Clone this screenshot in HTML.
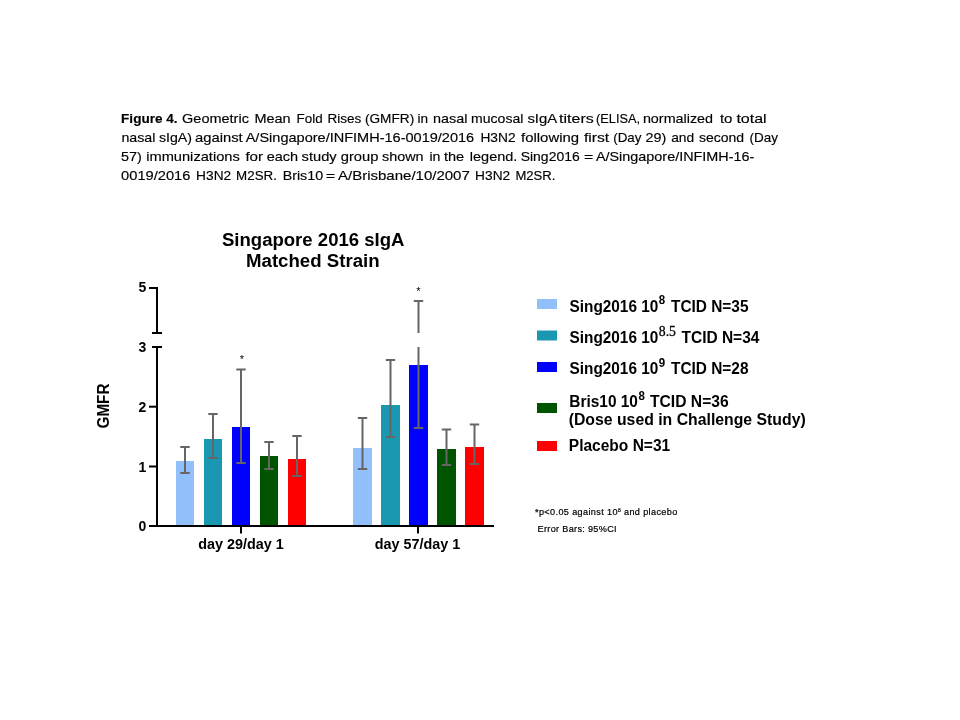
<!DOCTYPE html>
<html lang="en">
<head>
<meta charset="utf-8">
<title>Figure 4</title>
<style>
html,body{margin:0;padding:0;background:#fff;}
body{width:960px;height:720px;overflow:hidden;}
svg{display:block;}
text{font-family:"Liberation Sans",sans-serif;fill:#000;}
.cap{font-size:13.4px;stroke:#000;stroke-width:0.15px;}
.b{font-weight:bold;}
.ttl{font-size:18.7px;font-weight:bold;text-anchor:middle;}
.ax{font-size:14px;font-weight:bold;}
.lg{font-size:15.6px;font-weight:bold;}
.sup{font-size:13px;font-weight:bold;}
.fn{font-size:9.1px;stroke:#000;stroke-width:0.2px;}
.eb{stroke:#666;stroke-width:2;fill:none;}
</style>
</head>
<body>
<svg width="960" height="720" viewBox="0 0 960 720">
<rect width="960" height="720" fill="#fff"/>

<!-- caption -->
<g class="cap">
<text y="122.5"><tspan x="121.1" textLength="56.5" lengthAdjust="spacingAndGlyphs" class="b">Figure 4.</tspan> <tspan x="182.1" textLength="66.8" lengthAdjust="spacingAndGlyphs">Geometric</tspan> <tspan x="254.4" textLength="36.2" lengthAdjust="spacingAndGlyphs">Mean</tspan> <tspan x="296.6" textLength="26.0" lengthAdjust="spacingAndGlyphs">Fold</tspan> <tspan x="327.4" textLength="33.8" lengthAdjust="spacingAndGlyphs">Rises</tspan> <tspan x="364.9" textLength="49.3" lengthAdjust="spacingAndGlyphs">(GMFR)</tspan> <tspan x="417.4" textLength="10.6" lengthAdjust="spacingAndGlyphs">in</tspan> <tspan x="433.0" textLength="34.4" lengthAdjust="spacingAndGlyphs">nasal</tspan> <tspan x="471.1" textLength="52.3" lengthAdjust="spacingAndGlyphs">mucosal</tspan> <tspan x="527.4" textLength="29.0" lengthAdjust="spacingAndGlyphs">sIgA</tspan> <tspan x="559.1" textLength="34.6" lengthAdjust="spacingAndGlyphs">titers</tspan> <tspan x="596.1" textLength="44.0" lengthAdjust="spacingAndGlyphs">(ELISA,</tspan> <tspan x="642.9" textLength="70.2" lengthAdjust="spacingAndGlyphs">normalized</tspan> <tspan x="719.9" textLength="12.5" lengthAdjust="spacingAndGlyphs">to</tspan> <tspan x="736.4" textLength="30.3" lengthAdjust="spacingAndGlyphs">total</tspan></text>
<text y="141.7"><tspan x="121.4" textLength="34.0" lengthAdjust="spacingAndGlyphs">nasal</tspan> <tspan x="158.9" textLength="33.0" lengthAdjust="spacingAndGlyphs">sIgA)</tspan> <tspan x="195.0" textLength="47.7" lengthAdjust="spacingAndGlyphs">against</tspan> <tspan x="245.7" textLength="228.5" lengthAdjust="spacingAndGlyphs">A/Singapore/INFIMH-16-0019/2016</tspan> <tspan x="480.4" textLength="35.2" lengthAdjust="spacingAndGlyphs">H3N2</tspan> <tspan x="521.1" textLength="57.9" lengthAdjust="spacingAndGlyphs">following</tspan> <tspan x="583.9" textLength="25.3" lengthAdjust="spacingAndGlyphs">first</tspan> <tspan x="613.2" textLength="28.2" lengthAdjust="spacingAndGlyphs">(Day</tspan> <tspan x="645.6" textLength="20.8" lengthAdjust="spacingAndGlyphs">29)</tspan> <tspan x="671.2" textLength="23.0" lengthAdjust="spacingAndGlyphs">and</tspan> <tspan x="699.0" textLength="45.1" lengthAdjust="spacingAndGlyphs">second</tspan> <tspan x="749.4" textLength="28.5" lengthAdjust="spacingAndGlyphs">(Day</tspan></text>
<text y="161.0"><tspan x="121.1" textLength="20.8" lengthAdjust="spacingAndGlyphs">57)</tspan> <tspan x="146.2" textLength="93.6" lengthAdjust="spacingAndGlyphs">immunizations</tspan> <tspan x="245.4" textLength="17.7" lengthAdjust="spacingAndGlyphs">for</tspan> <tspan x="266.7" textLength="31.4" lengthAdjust="spacingAndGlyphs">each</tspan> <tspan x="301.6" textLength="35.1" lengthAdjust="spacingAndGlyphs">study</tspan> <tspan x="340.7" textLength="37.7" lengthAdjust="spacingAndGlyphs">group</tspan> <tspan x="382.1" textLength="41.5" lengthAdjust="spacingAndGlyphs">shown</tspan> <tspan x="429.4" textLength="11.0" lengthAdjust="spacingAndGlyphs">in</tspan> <tspan x="443.9" textLength="20.3" lengthAdjust="spacingAndGlyphs">the</tspan> <tspan x="469.8" textLength="47.6" lengthAdjust="spacingAndGlyphs">legend.</tspan> <tspan x="520.7" textLength="59.0" lengthAdjust="spacingAndGlyphs">Sing2016</tspan> <tspan x="584.1" textLength="9.3" lengthAdjust="spacingAndGlyphs">=</tspan> <tspan x="595.9" textLength="158.5" lengthAdjust="spacingAndGlyphs">A/Singapore/INFIMH-16-</tspan></text>
<text y="180.3"><tspan x="121.1" textLength="69.3" lengthAdjust="spacingAndGlyphs">0019/2016</tspan> <tspan x="196.1" textLength="35.1" lengthAdjust="spacingAndGlyphs">H3N2</tspan> <tspan x="236.1" textLength="40.8" lengthAdjust="spacingAndGlyphs">M2SR.</tspan> <tspan x="282.7" textLength="40.4" lengthAdjust="spacingAndGlyphs">Bris10</tspan> <tspan x="325.7" textLength="9.5" lengthAdjust="spacingAndGlyphs">=</tspan> <tspan x="338.0" textLength="131.8" lengthAdjust="spacingAndGlyphs">A/Brisbane/10/2007</tspan> <tspan x="475.1" textLength="35.1" lengthAdjust="spacingAndGlyphs">H3N2</tspan> <tspan x="515.4" textLength="40.0" lengthAdjust="spacingAndGlyphs">M2SR.</tspan></text>
</g>

<!-- chart title -->
<text class="ttl" x="313.2" y="245.8" textLength="182.5" lengthAdjust="spacingAndGlyphs">Singapore 2016 sIgA</text>
<text class="ttl" x="312.8" y="266.8" textLength="133.5" lengthAdjust="spacingAndGlyphs">Matched Strain</text>

<!-- bars -->
<g id="bars">
<rect x="176" y="461" width="18" height="64" fill="#92c0fa"/>
<rect x="204" y="439" width="18" height="86" fill="#1a98b1"/>
<rect x="232" y="427" width="18" height="98" fill="#0000ff"/>
<rect x="260" y="456" width="18" height="69" fill="#005400"/>
<rect x="288" y="459" width="18" height="66" fill="#ff0000"/>

<rect x="353" y="448" width="19" height="77" fill="#92c0fa"/>
<rect x="381" y="405" width="19" height="120" fill="#1a98b1"/>
<rect x="409" y="365" width="19" height="160" fill="#0000ff"/>
<rect x="437" y="449" width="19" height="76" fill="#005400"/>
<rect x="465" y="447" width="19" height="78" fill="#ff0000"/>
</g>

<!-- error bars -->
<g class="eb">
<path d="M185 447V473M180.3 447h9.4M180.3 473h9.4"/>
<path d="M213 414V458M208.3 414h9.4M208.3 458h9.4"/>
<path d="M241 369.5V463M236.3 369.5h9.4M236.3 463h9.4"/>
<path d="M269 442V469M264.3 442h9.4M264.3 469h9.4"/>
<path d="M297 436V476M292.3 436h9.4M292.3 476h9.4"/>

<path d="M362.5 418V469M357.8 418h9.4M357.8 469h9.4"/>
<path d="M390.5 360V437M385.8 360h9.4M385.8 437h9.4"/>
<path d="M418.5 301V333M418.5 347V428M413.8 301h9.4M413.8 428h9.4"/>
<path d="M446.5 429.5V465M441.8 429.5h9.4M441.8 465h9.4"/>
<path d="M474.5 424.5V464M469.8 424.5h9.4M469.8 464h9.4"/>
</g>

<!-- axes -->
<g fill="#000">
<rect x="156" y="287" width="2" height="47"/>
<rect x="149" y="287" width="8" height="2"/>
<rect x="152" y="332" width="10" height="2"/>
<rect x="152" y="346" width="10" height="2"/>
<rect x="156" y="346" width="2" height="181"/>
<rect x="149" y="405.7" width="8" height="2"/>
<rect x="149" y="465.5" width="8" height="2"/>
<rect x="149" y="525" width="345" height="2"/>
<rect x="240" y="526" width="2" height="7.5"/>
<rect x="417" y="526" width="2" height="7.5"/>
</g>

<!-- axis labels -->
<g class="ax">
<text x="146.2" y="292.3" text-anchor="end">5</text>
<text x="146.2" y="352" text-anchor="end">3</text>
<text x="146.2" y="411.6" text-anchor="end">2</text>
<text x="146.2" y="471.5" text-anchor="end">1</text>
<text x="146.2" y="530.7" text-anchor="end">0</text>
<text x="241" y="549.3" text-anchor="middle" textLength="85.5" lengthAdjust="spacingAndGlyphs">day 29/day 1</text>
<text x="417.5" y="549.3" text-anchor="middle" textLength="85.5" lengthAdjust="spacingAndGlyphs">day 57/day 1</text>
</g>
<text transform="translate(109.3,406) rotate(-90)" text-anchor="middle" textLength="45" lengthAdjust="spacingAndGlyphs" style="font-size:16.8px;font-weight:bold">GMFR</text>

<!-- stars -->
<text x="241.8" y="363.4" text-anchor="middle" style="font-size:11px">*</text>
<text x="418.5" y="295.2" text-anchor="middle" style="font-size:11px">*</text>

<!-- legend -->
<rect x="537" y="299" width="20" height="10" fill="#92c0fa"/>
<rect x="537" y="330.5" width="20" height="10" fill="#1a98b1"/>
<rect x="537" y="362" width="20" height="10" fill="#0000ff"/>
<rect x="537" y="403" width="20" height="10" fill="#005400"/>
<rect x="537" y="441" width="20" height="10" fill="#ff0000"/>

<g class="lg">
<text x="569.5" y="311.5" textLength="88.8" lengthAdjust="spacingAndGlyphs">Sing2016 10</text>
<text x="658.8" y="304.4" class="sup" textLength="6.4" lengthAdjust="spacingAndGlyphs">8</text>
<text x="671" y="311.5" textLength="77.5" lengthAdjust="spacingAndGlyphs">TCID N=35</text>

<text x="569.5" y="342.6" textLength="88.8" lengthAdjust="spacingAndGlyphs">Sing2016 10</text>
<text x="658.8" y="336" class="sup" style="font-family:'Liberation Serif',serif;font-size:14px;font-weight:normal;stroke:#000;stroke-width:0.3px" textLength="17.2" lengthAdjust="spacingAndGlyphs">8.5</text>
<text x="681.5" y="342.6" textLength="77.9" lengthAdjust="spacingAndGlyphs">TCID N=34</text>

<text x="569.5" y="373.8" textLength="88.8" lengthAdjust="spacingAndGlyphs">Sing2016 10</text>
<text x="658.8" y="366.8" class="sup" textLength="6.4" lengthAdjust="spacingAndGlyphs">9</text>
<text x="671" y="373.8" textLength="77.5" lengthAdjust="spacingAndGlyphs">TCID N=28</text>

<text x="569.3" y="406.9" textLength="68.6" lengthAdjust="spacingAndGlyphs">Bris10 10</text>
<text x="638.6" y="400" class="sup" textLength="6.4" lengthAdjust="spacingAndGlyphs">8</text>
<text x="650" y="406.9" textLength="78.7" lengthAdjust="spacingAndGlyphs">TCID N=36</text>
<text x="568.7" y="424.8" textLength="237" lengthAdjust="spacingAndGlyphs">(Dose used in Challenge Study)</text>

<text x="568.8" y="451" textLength="101.4" lengthAdjust="spacingAndGlyphs">Placebo N=31</text>
</g>

<!-- footnotes -->
<g class="fn">
<text x="535" y="515" textLength="142.3" lengthAdjust="spacing">*p&lt;0.05 against 10<tspan dy="-3.2" style="font-size:5px">8</tspan><tspan dy="3.2"> and placebo</tspan></text>
<text x="537.6" y="532.2" textLength="79" lengthAdjust="spacing">Error Bars: 95%CI</text>
</g>
</svg>
</body>
</html>
